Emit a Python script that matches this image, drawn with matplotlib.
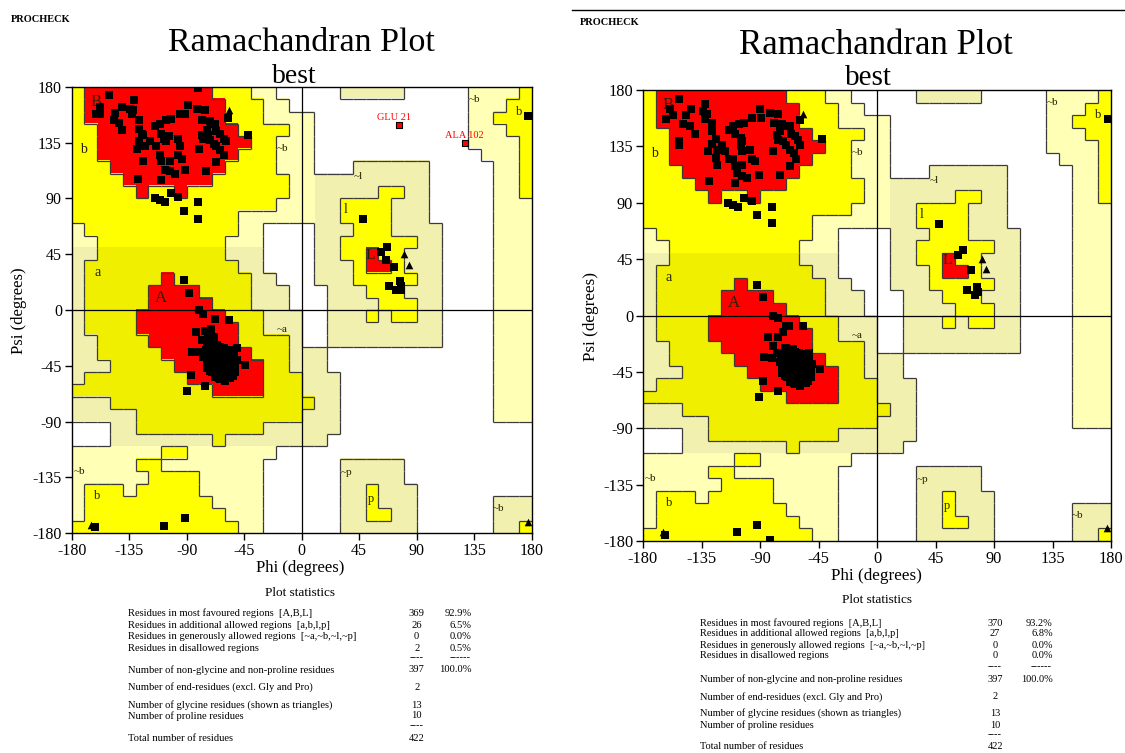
import numpy as np
import matplotlib
matplotlib.use('Agg')
import matplotlib.pyplot as plt
from matplotlib.collections import LineCollection
from matplotlib.colors import to_rgb

plt.rcParams['font.family'] = ['Liberation Serif', 'DejaVu Serif']
plt.rcParams['axes.unicode_minus'] = False

W, H = 1125, 753

# region map, 10 degree cells, rows psi 180 -> -180, cols phi -180 -> 180
# R core, Y/y allowed, G/K generous, . disallowed
region_rows = [
    "YRRRRRRRRRRYYYGG.....KKKKK.....GGGGY",
    "YRRRRRRRRRRRYYYGG..............GGGYY",
    "YRRRRRRRRRRRYYYGGGG............GGYYY",
    "YYRRRRRRRRRRRYYYYGG............GGGYY",
    "YYRRRRRRRRRRRRYYGGG............GGGGY",
    "YYRRRRRRRRRRRYYYGGG.............GGGY",
    "YYYRRRRRRRRRYYYYGGG...KKKKKK.....GGY",
    "YYYYRRRRRRRYYYYYYGGKKKKKKKKK.....GGY",
    "YYYYYRYYRYYYYYYYYGGKKKKKYYKK.....GGY",
    "YYYYYYYYYYYYYYYYGGGKKYYYYKKK.....GGG",
    "YYYYYYYYYYYYYGGGGGGKKYYYYKKK.....GGG",
    "GYYYYYYYYYYYYGG....KKKYYYKKKK....GGG",
    "GGYYYYYYYYYYGGG....KKYYYYYYKK....GGG",
    "KKyyyyyyyyyyKKK....KKYYRYYKKK....GGG",
    "KyyyyyyyyyyyyKK....KKKYRRYKKK....GGG",
    "KyyyyyyRyyyyyyKK...KKKYYYYYKK....GGG",
    "KyyyyyRRRRyyyyKKK...KKKYYYKKK....GGG",
    "KyyyyyRRRRRyyyKKK...KKKKYYYKK....GGG",
    "KyyyyRRRRRRRyyyKKK..KKKYKYYKK....GGG",
    "KyyyyRRRRRRRRyyKKK..KKKKKKKKK....GGG",
    "KKyyyyRRRRRRRyyyyK..KKKKKKKKK....GGG",
    "KKyyyyyRRRRRRRyyyKKK.............GGG",
    "KKKyyyyyRRRRRRRyyKKK.............GGG",
    "KyyyyyyyyRRRRRRyyyKKK............GGG",
    "yyyyyyyyyyyRRRRyyyKKK............GGG",
    "KKKyyyyyyyyyyyyyyyyKK............GGG",
    "KKKKKyyyyyyyyyyyyyKKK............GGG",
    "...KKyyyyyyyyyyKKKKKK...............",
    "...KKKKKKKKyKKKKKKKK................",
    "GGGGGGGYYGGGGGGG....................",
    "GGGGGYYGGGGGGGG......KKKKK..........",
    "GGGGGGYYYYGGGGG......KKKKK..........",
    "GYYYGYYYYYGGGGG......KKYKKK.........",
    "GYYYYYYYYYYGGGG......KKYKKK......KKK",
    "GYYYYYYYYYYYGGG......KKYYKK......KKK",
    "YYYYYYYYYYYYYGG......KKKKKK......KKY",
]

region_colours = {'R': '#ff0000', 'Y': '#ffff00', 'y': '#f0ef00',
                  'G': '#ffffb6', 'K': '#f2f0ae', '.': '#ffffff'}
region_level = {'R': 3, 'Y': 2, 'y': 2, 'G': 1, 'K': 1, '.': 0}

# (text, phi, psi, size)
region_labels = [
    ('B', -161, 168, 12), ('b', -171, 129, 10), ('~b', -15, 130, 8),
    ('a', -160, 30, 10), ('A', -110, 10, 12), ('~a', -15, -16, 8),
    ('~b', -174, -130, 8), ('b', -160, -150, 9), ('~l', 44, 108, 8),
    ('l', 34, 81, 10), ('L', 54, 44, 11), ('~b', 135, 170, 8),
    ('b', 170, 160, 9), ('~p', 35, -131, 8), ('p', 54, -152, 9),
    ('~b', 154, -160, 8),
]

helix_left = [
    (-66, -40), (-64, -42), (-62, -44), (-60, -40), (-63, -38), (-67, -44), (-65, -46),
    (-61, -47), (-58, -43), (-57, -39), (-69, -41), (-70, -37), (-68, -35), (-64, -36),
    (-60, -35), (-56, -45), (-59, -49), (-63, -50), (-67, -49), (-71, -45), (-72, -40),
    (-66, -52), (-62, -54), (-58, -52), (-55, -48), (-54, -42), (-53, -38), (-57, -34),
    (-61, -31), (-65, -32), (-69, -30), (-73, -34), (-74, -43), (-70, -50), (-64, -56),
    (-60, -57), (-56, -55), (-52, -46), (-51, -40), (-66, -28), (-72, -27), (-76, -38),
    (-62, -39), (-65, -43), (-61, -45), (-63, -41), (-59, -45), (-67, -38), (-68, -46),
    (-62, -48), (-70, -42), (-68, -43), (-66, -44), (-64, -45), (-62, -46), (-60, -47),
    (-58, -47), (-57, -45), (-56, -42), (-58, -40), (-60, -38), (-62, -36), (-64, -38),
    (-66, -37), (-68, -39), (-70, -39), (-71, -42), (-69, -47), (-67, -51), (-65, -49),
    (-63, -47), (-61, -51), (-59, -53), (-57, -50), (-55, -51), (-53, -44), (-55, -40),
    (-59, -37), (-63, -34), (-67, -33), (-71, -35), (-73, -38), (-74, -47), (-72, -49),
    (-68, -54), (-65, -55), (-62, -52), (-58, -55), (-54, -53), (-52, -50), (-53, -35),
    (-55, -32), (-60, -32), (-64, -30), (-70, -32), (-75, -32),
]
other_left = [
    (-81, 179), (-151, 173), (-158, 164), (-161, 158), (-158, 158), (-141, 164), (-131, 169),
    (-146, 159), (-147, 153), (-143, 151), (-141, 145), (-134, 162), (-133, 158), (-132, 161),
    (-127, 153), (-127, 146), (-125, 142), (-124, 141), (-127, 136), (-119, 136), (-129, 130),
    (-123, 132), (-124, 120), (-128, 106), (-115, 148), (-111, 150), (-106, 153), (-102, 154),
    (-110, 142), (-108, 138), (-106, 136), (-104, 140), (-114, 132), (-111, 125), (-110, 120),
    (-103, 120), (-107, 113), (-103, 112), (-99, 110), (-110, 105), (-97, 138), (-95, 132),
    (-97, 125), (-94, 122), (-91, 113), (-95, 158), (-89, 165), (-91, 158), (-82, 162),
    (-76, 161), (-78, 153), (-72, 152), (-71, 150), (-68, 150), (-80, 130), (-78, 141),
    (-77, 138), (-74, 145), (-73, 141), (-72, 137), (-69, 134), (-67, 132), (-64, 129),
    (-61, 125), (-67, 144), (-64, 142), (-61, 138), (-59, 136), (-75, 112), (-67, 119),
    (-58, 155), (-42, 141), (-115, 90), (-111, 89), (-107, 87), (-102, 94), (-97, 91),
    (-81, 87), (-92, 80), (-81, 73),
    (-92, 24), (-88, 14), (-80, 0), (-77, -3), (-68, -7), (-57, -8), (-83, -18), (-76, -17),
    (-73, -20), (-71, -15), (-69, -22), (-86, -34), (-80, -34), (-78, -24), (-74, -30),
    (-77, -38), (-51, -31), (-44, -44), (-54, -49), (-87, -52), (-76, -61), (-90, -65),
    (-162, -175), (-108, -174), (-91, -168),
    (48, 73), (67, 51), (62, 47), (66, 40), (72, 35), (68, 19), (74, 16), (77, 23),
    (78, 19), (78, 16), (177, 156),
]
gly_left = [(-57, 161), (80, 45), (84, 36), (-165, -173), (177, -171)]
bad_left = [(76, 149, 'GLU 21', 72, 155), (128, 135, 'ALA 102', 127, 141)]

helix_right = [
    (-65, -39), (-63, -41), (-61, -43), (-59, -39), (-62, -37), (-66, -43), (-64, -45),
    (-60, -46), (-57, -42), (-56, -38), (-68, -40), (-69, -36), (-67, -34), (-63, -35),
    (-59, -34), (-55, -44), (-58, -48), (-62, -49), (-66, -48), (-70, -44), (-71, -39),
    (-65, -51), (-61, -53), (-57, -51), (-54, -47), (-53, -41), (-52, -37), (-56, -33),
    (-60, -30), (-64, -31), (-68, -29), (-72, -33), (-73, -42), (-69, -49), (-63, -55),
    (-59, -56), (-55, -54), (-51, -45), (-50, -39), (-65, -27), (-71, -26), (-75, -37),
    (-61, -38), (-64, -42), (-60, -44), (-62, -40), (-58, -44), (-66, -37), (-67, -45),
    (-61, -47), (-69, -41), (-67, -42), (-65, -43), (-63, -44), (-61, -45), (-59, -46),
    (-57, -46), (-56, -44), (-55, -41), (-57, -39), (-59, -37), (-61, -35), (-63, -37),
    (-65, -36), (-67, -38), (-69, -38), (-70, -41), (-68, -46), (-66, -50), (-64, -48),
    (-62, -46), (-60, -50), (-58, -52), (-56, -49), (-54, -50), (-52, -43), (-54, -39),
    (-58, -36), (-62, -33), (-66, -32), (-70, -34), (-72, -37), (-73, -46), (-71, -48),
    (-67, -53), (-64, -54), (-61, -51), (-57, -54), (-53, -52), (-51, -49), (-52, -34),
    (-54, -31), (-59, -31), (-63, -29), (-69, -31), (-74, -31),
]
other_right = [
    (-152, 173), (-159, 165), (-162, 157), (-157, 160), (-143, 165), (-132, 169), (-131, 161),
    (-134, 163), (-132, 157), (-147, 160), (-149, 153), (-144, 151), (-140, 145), (-127, 154),
    (-127, 147), (-124, 141), (-152, 139), (-152, 136), (-127, 137), (-130, 131), (-123, 132),
    (-119, 136), (-124, 126), (-123, 120), (-129, 107), (-114, 148), (-111, 151), (-106, 153),
    (-102, 154), (-109, 145), (-105, 142), (-104, 139), (-105, 136), (-117, 131), (-114, 125),
    (-111, 125), (-104, 131), (-98, 132), (-96, 125), (-94, 123), (-109, 119), (-104, 120),
    (-108, 114), (-104, 111), (-100, 110), (-109, 106), (-91, 112), (-96, 158), (-90, 165),
    (-89, 158), (-82, 162), (-76, 161), (-79, 154), (-73, 153), (-70, 151), (-67, 151),
    (-80, 131), (-77, 144), (-76, 140), (-75, 147), (-72, 139), (-70, 136), (-67, 132),
    (-64, 130), (-62, 125), (-66, 145), (-63, 143), (-61, 140), (-59, 136), (-75, 112),
    (-67, 119), (-59, 156), (-42, 141), (-115, 90), (-111, 88), (-107, 87), (-102, 94),
    (-96, 91), (-81, 87), (-92, 80), (-81, 74),
    (-92, 24), (-88, 15), (-80, 0), (-76, -2), (-70, -8), (-57, -8), (-68, -8), (-84, -17),
    (-76, -17), (-72, -13), (-80, -24), (-77, -30), (-70, -26), (-71, -33), (-87, -33),
    (-81, -34), (-52, -30), (-44, -43), (-53, -49), (-88, -52), (-76, -60), (-91, -65),
    (-163, -175), (-108, -173), (-92, -167), (-82, -179),
    (48, 73), (66, 52), (62, 48), (72, 36), (69, 20), (75, 16), (77, 23), (78, 19),
    (178, 157),
]
gly_right = [(-57, 161), (81, 45), (84, 37), (-165, -173), (177, -170)]
bad_right = []

stat_names = [
    'Residues in most favoured regions  [A,B,L]',
    'Residues in additional allowed regions  [a,b,l,p]',
    'Residues in generously allowed regions  [~a,~b,~l,~p]',
    'Residues in disallowed regions',
    'Number of non-glycine and non-proline residues',
    'Number of end-residues (excl. Gly and Pro)',
    'Number of glycine residues (shown as triangles)',
    'Number of proline residues',
    'Total number of residues',
]
stat_counts_left = ['369', '26', '0', '2', '397', '2', '13', '10', '422']
stat_pct_left = ['92.9%', '6.5%', '0.0%', '0.5%', '100.0%', '', '', '', '']
stat_counts_right = ['370', '27', '0', '0', '397', '2', '13', '10', '422']
stat_pct_right = ['93.2%', '6.8%', '0.0%', '0.0%', '100.0%', '', '', '', '']

fig = plt.figure(figsize=(W / 100, H / 100), dpi=100)


def fx(x):
    return x / W


def fy(y):
    return 1 - y / H


def rama(box, helix, other, gly, bad, tsize):
    ax = fig.add_axes(box)
    img = np.array([[to_rgb(region_colours[ch]) for ch in row] for row in region_rows])
    ax.imshow(img, extent=(-180, 180, -180, 180), origin='upper',
              interpolation='nearest', aspect='auto', zorder=0)
    lev = np.array([[region_level[ch] for ch in row] for row in region_rows])
    segs = []
    for r in range(36):
        top = 180 - 10 * r
        for c in range(35):
            if lev[r, c] != lev[r, c + 1]:
                x = -170 + 10 * c
                segs.append([(x, top - 10), (x, top)])
    for r in range(35):
        yy = 170 - 10 * r
        for c in range(36):
            if lev[r, c] != lev[r + 1, c]:
                x0 = -180 + 10 * c
                segs.append([(x0, yy), (x0 + 10, yy)])
    ax.add_collection(LineCollection(segs, colors='#3a3a3a', linewidths=0.9, zorder=1))
    ax.axvline(0, color='black', lw=0.9, zorder=2)
    ax.axhline(0, color='black', lw=0.9, zorder=2)
    for txt, p, s, fs in region_labels:
        ax.text(p, s, txt, fontsize=fs, ha='center', va='center', color='#222200', zorder=2)
    pts = np.array(helix + other)
    ax.scatter(pts[:, 0], pts[:, 1], marker='s', s=30, c='black', linewidths=0, zorder=3)
    g = np.array(gly)
    ax.scatter(g[:, 0], g[:, 1], marker='^', s=30, c='black', linewidths=0, zorder=3)
    for p, s, lab, lp, ls in bad:
        ax.scatter([p], [s], marker='s', s=24, c='red', edgecolors='black', linewidths=0.8, zorder=4)
        ax.text(lp, ls, lab, fontsize=7.5, color='red', ha='center', va='center', zorder=4)
    ax.set_xlim(-180, 180)
    ax.set_ylim(-180, 180)
    ticks = np.arange(-180, 181, 45)
    ax.set_xticks(ticks)
    ax.set_yticks(ticks)
    ax.set_xticklabels([str(t) for t in ticks], fontsize=tsize)
    ax.set_yticklabels([str(t) for t in ticks], fontsize=tsize)
    ax.tick_params(direction='out', length=5, width=1, pad=2)
    for sp in ax.spines.values():
        sp.set_linewidth(1)
    return ax


rama([fx(71.7), fy(533.3), 460 / W, 446.6 / H], helix_left, other_left, gly_left, bad_left, 11.5)
rama([fx(643), fy(541), 468 / W, 451 / H], helix_right, other_right, gly_right, bad_right, 11.8)

# headings
fig.text(fx(10.7), fy(22), 'PROCHECK', fontsize=7.5, fontweight='bold', ha='left', va='baseline')
fig.text(fx(301), fy(51), 'Ramachandran Plot', fontsize=24.5, ha='center', va='baseline')
fig.text(fx(294), fy(83), 'best', fontsize=20, ha='center', va='baseline')
fig.text(fx(580), fy(25), 'PROCHECK', fontsize=7.5, fontweight='bold', ha='left', va='baseline')
fig.text(fx(876), fy(54), 'Ramachandran Plot', fontsize=25, ha='center', va='baseline')
fig.text(fx(868), fy(84.7), 'best', fontsize=21, ha='center', va='baseline')
fig.add_artist(plt.Line2D([fx(572), 1.0], [fy(10), fy(10)], color='black', lw=1))

fig.text(fx(300), fy(568), 'Phi (degrees)', fontsize=12, ha='center', va='center')
fig.text(fx(19), fy(311), 'Psi (degrees)', fontsize=12, ha='center', va='center', rotation=90)
fig.text(fx(876), fy(576), 'Phi (degrees)', fontsize=12.3, ha='center', va='center')
fig.text(fx(591), fy(316), 'Psi (degrees)', fontsize=12.3, ha='center', va='center', rotation=90)


def stats(x0, xn, xp, ytitle, xtitle, ys, ydash1, ydash2, counts, pcts, fs):
    fig.text(fx(xtitle), fy(ytitle), 'Plot statistics', fontsize=9.5, ha='center', va='center')
    for name, n, p, y in zip(stat_names, counts, pcts, ys):
        fig.text(fx(x0), fy(y), name, fontsize=fs, ha='left', va='center')
        fig.text(fx(xn), fy(y), n, fontsize=fs, ha='center', va='center')
        if p:
            fig.text(fx(xp), fy(y), p, fontsize=fs, ha='right', va='center')
    fig.text(fx(xn), fy(ydash1), '----', fontsize=fs, ha='center', va='center')
    fig.text(fx(xp - 1), fy(ydash1), '------', fontsize=fs, ha='right', va='center')
    fig.text(fx(xn), fy(ydash2), '----', fontsize=fs, ha='center', va='center')


stats(128.3, 416.7, 471.7, 593.3, 300,
      [613.3, 625, 636.7, 648.3, 670, 687.3, 705, 716, 738.3], 658, 726,
      stat_counts_left, stat_pct_left, 7.6)
stats(700, 995, 1052.7, 600, 877,
      [623.3, 634, 645, 656, 679.3, 696.7, 713.3, 725, 746.7], 666.5, 735,
      stat_counts_right, stat_pct_right, 7.5)

fig.savefig('out.png', dpi=100)
